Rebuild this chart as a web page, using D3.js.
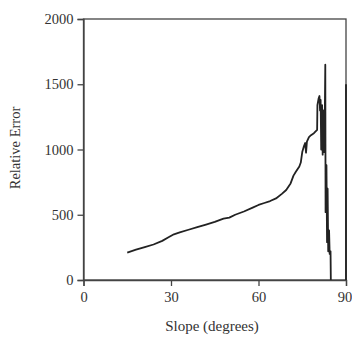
<!DOCTYPE html>
<html>
<head>
<meta charset="utf-8">
<script src="https://cdn.jsdelivr.net/npm/d3@7"></script>
<style>
  body { margin: 0; background: #fff; }
  svg text { font-family: "Liberation Serif", "DejaVu Serif", serif; fill: #333; }
</style>
</head>
<body>
<svg class="chart" width="352" height="337"></svg>
<script>
// values
const slope = [15, 18, 21, 24, 27, 29, 31, 33, 36, 39, 42, 45, 48, 50, 52, 55, 58, 60, 62, 64, 66, 68,
  69.5, 71, 72, 72.8, 74, 74.5, 75, 75.5, 76, 76.3, 76.6, 77.3, 78, 79, 80.1, 80.2, 80.6, 80.9, 81.1,
  81.3, 81.5, 81.8, 82, 82.3, 82.6, 82.9, 83, 83.3, 83.5, 83.7, 83.9, 84.2, 84.4, 84.7, 84.8];
const relError = [210, 232, 252, 272, 300, 325, 350, 365, 385, 405, 425, 445, 470, 478, 500, 525, 555, 575, 590, 605, 625, 660,
  690, 740, 800, 830, 870, 900, 980, 1020, 1050, 975, 1060, 1095, 1110, 1125, 1150, 1340, 1390, 1410, 1300,
  1380, 1000, 1340, 960, 1300, 980, 1650, 520, 880, 290, 700, 220, 380, 200, 220, 0];

// the lone vertical stroke sitting at 90 degrees
const edgeSlope = [90, 90];
const edgeError = [0, 1500];

const xTicks = [0, 30, 60, 90];
const yTicks = [0, 500, 1000, 1500, 2000];

const mLeft = 83.5, mRight = 346, mTop = 19, mBottom = 280;

const svg = d3.select(".chart");

const x = d3.scaleLinear().domain([0, 90]).range([mLeft, mRight]);
const y = d3.scaleLinear().domain([0, 2000]).range([mBottom, mTop]);

// frame
svg.append("rect")
  .attr("x", mLeft).attr("y", mTop)
  .attr("width", mRight - mLeft).attr("height", mBottom - mTop)
  .attr("fill", "none")
  .attr("stroke", "#444")
  .attr("stroke-width", 1.3);

const xAxis = svg.append("g")
  .attr("transform", `translate(0,${mBottom})`)
  .call(d3.axisBottom(x).tickValues(xTicks).tickSize(6).tickPadding(6).tickFormat(d3.format("d")));

const yAxis = svg.append("g")
  .attr("transform", `translate(${mLeft},0)`)
  .call(d3.axisLeft(y).tickValues(yTicks).tickSize(6).tickPadding(4).tickFormat(d3.format("d")));

[xAxis, yAxis].forEach(g => {
  g.select(".domain").attr("stroke", "#444").attr("stroke-width", 1.3);
  g.selectAll(".tick line").attr("stroke", "#444").attr("stroke-width", 1.3);
  g.selectAll(".tick text").attr("font-size", 14.5).attr("fill", "#333")
    .attr("font-family", "Liberation Serif, serif");
});

// last x label sits right at the edge, pull it in a touch
xAxis.selectAll(".tick text").filter(d => d === 90).attr("dx", -1.5);

const line = d3.line()
  .x(d => x(d[0]))
  .y(d => y(d[1]));

svg.append("path")
  .datum(slope.map((s, i) => [s, relError[i]]))
  .attr("d", line)
  .attr("fill", "none")
  .attr("stroke", "#222")
  .attr("stroke-width", 1.8)
  .attr("stroke-linejoin", "round");

svg.append("path")
  .datum(edgeSlope.map((s, i) => [s, edgeError[i]]))
  .attr("d", line)
  .attr("fill", "none")
  .attr("stroke", "#222")
  .attr("stroke-width", 1.8);

svg.append("text")
  .text("Slope (degrees)")
  .attr("x", 212)
  .attr("y", 331)
  .attr("text-anchor", "middle")
  .attr("font-size", 15);

svg.append("text")
  .text("Relative Error")
  .attr("transform", "translate(20,148) rotate(-90)")
  .attr("text-anchor", "middle")
  .attr("font-size", 14.5);
</script>
</body>
</html>
